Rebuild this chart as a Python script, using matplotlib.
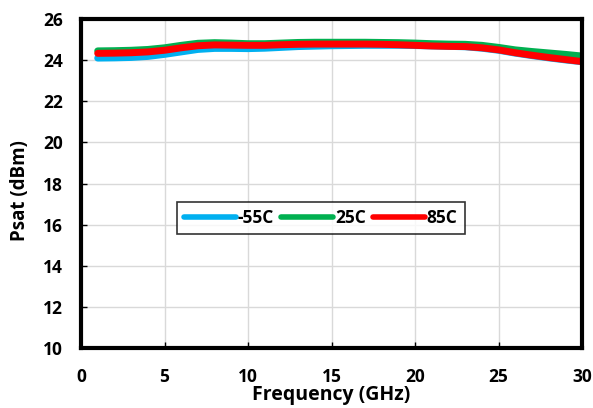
import matplotlib
matplotlib.use("Agg")
import matplotlib.pyplot as plt
import numpy as np

plt.rcParams['font.family'] = ['Open Sans', 'DejaVu Sans']
plt.rcParams['font.weight'] = 'bold'

freq = np.arange(1, 31)

psat_m55 = [24.10, 24.11, 24.13, 24.18, 24.28, 24.40, 24.52, 24.57, 24.57, 24.56,
            24.58, 24.62, 24.66, 24.68, 24.70, 24.71, 24.72, 24.72, 24.72, 24.71,
            24.69, 24.67, 24.65, 24.58, 24.48, 24.34, 24.22, 24.11, 24.01, 23.92]
psat_25 = [24.45, 24.46, 24.48, 24.52, 24.60, 24.72, 24.82, 24.85, 24.83, 24.80,
           24.80, 24.83, 24.86, 24.87, 24.87, 24.87, 24.87, 24.86, 24.85, 24.83,
           24.80, 24.78, 24.77, 24.72, 24.62, 24.50, 24.42, 24.35, 24.28, 24.20]
psat_85 = [24.33, 24.34, 24.36, 24.40, 24.48, 24.60, 24.70, 24.74, 24.73, 24.72,
           24.72, 24.75, 24.77, 24.78, 24.78, 24.78, 24.78, 24.77, 24.75, 24.72,
           24.69, 24.67, 24.66, 24.60, 24.50, 24.36, 24.24, 24.13, 24.03, 23.93]

series = [("-55C", psat_m55, "#00B0F0"),
          ("25C", psat_25, "#00B050"),
          ("85C", psat_85, "#FF0000")]

fig = plt.figure(figsize=(5.93, 4.08), dpi=100)
ax = fig.add_axes([0.1366, 0.147, 0.8449, 0.8064])

for name, vals, col in series:
    ax.plot(freq, vals, color=col, lw=5, label=name, solid_capstyle='round')

ax.set_xlim(0, 30)
ax.set_ylim(10, 26)
ax.set_xticks(np.arange(0, 31, 5))
ax.set_yticks(np.arange(10, 27, 2))
ax.grid(True, color="#D9D9D9", lw=1)
ax.set_axisbelow(True)
for s in ax.spines.values():
    s.set_linewidth(3)
    s.set_color("black")
ax.tick_params(direction='in', length=4, width=1, labelsize=12.5)
ax.tick_params(axis='x', pad=14.5)
ax.tick_params(axis='y', pad=13)

ax.set_xlabel("Frequency (GHz)", fontsize=14, fontweight='bold')
ax.xaxis.set_label_coords(0.5, -0.158)
ax.xaxis.label.set_verticalalignment('baseline')
ax.set_ylabel("Psat (dBm)", fontsize=13.5, fontweight='bold')
ax.yaxis.set_label_coords(-0.122, 0.48)
ax.yaxis.label.set_verticalalignment('center')

leg = ax.legend(loc='upper left', bbox_to_anchor=(0.192, 0.444), ncol=3,
                fontsize=12.5, frameon=True, fancybox=False, handlelength=3.0,
                handletextpad=0.1, columnspacing=0.4, borderpad=0.4,
                borderaxespad=0)
leg.get_frame().set_edgecolor("black")
leg.get_frame().set_linewidth(1.2)
for h in leg.get_lines():
    h.set_linewidth(4)

fig.savefig("out.png", dpi=100)
